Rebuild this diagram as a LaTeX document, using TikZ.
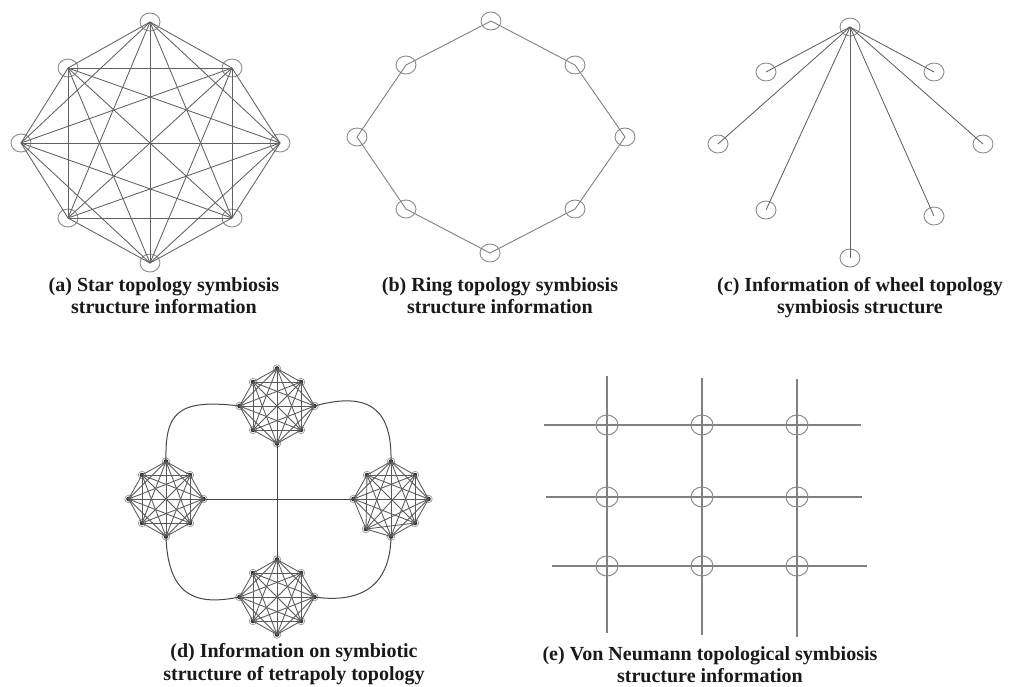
\documentclass[tikz,border=0pt]{standalone}
\usepackage{fontspec}
\setmainfont{Liberation Serif}
\usetikzlibrary{shapes.geometric}
\begin{document}
\begin{tikzpicture}[x=1pt,y=-1pt,
  ringnode/.style={draw=black!45, line width=0.9pt, ellipse, minimum width=20pt, minimum height=18pt, inner sep=0pt},
  gridnode/.style={draw=black!45, line width=1pt, ellipse, minimum width=22pt, minimum height=20pt, inner sep=0pt},
  edge/.style={draw=black!62, line width=0.85pt},
  ringedge/.style={draw=black!50, line width=0.9pt},
  gridline/.style={draw=black!50, line width=1.1pt},
  kedge/.style={draw=black!65, line width=0.85pt},
  dline/.style={draw=black!72, line width=1pt},
  knode/.style={circle, draw=black!40, minimum size=7.5pt, inner sep=0pt, line width=0.7pt,
    path picture={\fill[black!80] (path picture bounding box.center) circle (2.3pt);}},
  caption/.style={font=\bfseries\fontsize{20}{23}\selectfont, text=black!90, anchor=base, inner sep=0pt}
]
\useasboundingbox[fill=white] (0,0) rectangle (1026,686);

% ---------- (a) complete graph ----------
\foreach \n/\x/\y in {0/150/22, 1/232/68, 2/280/143, 3/232/218, 4/150/263, 5/68/218, 6/21/143, 7/68/68}
  \node[ringnode] (A\n) at (\x,\y) {};
\foreach \i in {0,...,6}{
  \pgfmathtruncatemacro\jstart{\i+1}
  \foreach \j in {\jstart,...,7}
    \draw[edge] (A\i.center) -- (A\j.center);
}
\node[caption] (capA1) at (164,291) {(a) Star topology symbiosis};
\node[caption] (capA2) at (164,313) {structure information};

% ---------- (b) ring ----------
\foreach \n/\x/\y in {0/491/21, 1/575/65, 2/625/137, 3/575/209, 4/490/253, 5/406/209, 6/357/137, 7/406/65}
  \node[ringnode] (B\n) at (\x,\y) {};
\draw[ringedge] (B0.center) -- (B1.center) -- (B2.center) -- (B3.center) -- (B4.center)
  -- (B5.center) -- (B6.center) -- (B7.center) -- cycle;
\node[caption] (capB1) at (500,291) {(b) Ring topology symbiosis};
\node[caption] (capB2) at (500,313) {structure information};

% ---------- (c) wheel ----------
\node[ringnode] (C0) at (850,27) {};
\foreach \n/\x/\y in {1/766/72, 2/934/72, 3/718/144, 4/983/144, 5/766/210, 6/934/216, 7/850/258}{
  \node[ringnode] (C\n) at (\x,\y) {};
  \draw[edge] (C0.center) -- (C\n.center);
}
\node[caption] (capC1) at (860,291) {(c) Information of wheel topology};
\node[caption] (capC2) at (860,313) {symbiosis structure};

% ---------- (d) tetrapoly ----------
\def\koffsets{0/0/-37.5, 1/24/-24, 2/37.5/0, 3/24/24, 4/0/37.5, 5/-24/24, 6/-37.5/0, 7/-24/-24}
\foreach \n/\dx/\dy in \koffsets {
  \node[knode] (T\n) at ([shift={(\dx,\dy)}]277,406) {};
  \node[knode] (L\n) at ([shift={(\dx,\dy)}]166,499) {};
  \node[knode] (Bt\n) at ([shift={(\dx,\dy)}]277,597) {};
}
\foreach \n/\dx/\dy in {0/0/-37.5, 1/24/-24, 2/37.5/0, 3/24/24, 4/0/37.5, 5/-25/30, 6/-37.5/0, 7/-24/-24}
  \node[knode] (R\n) at ([shift={(\dx,\dy)}]391,499) {};
\foreach \p in {T,L,R,Bt}{
  \foreach \i in {0,...,6}{
    \pgfmathtruncatemacro\jstart{\i+1}
    \foreach \j in {\jstart,...,7}
      \draw[kedge] (\p\i.center) -- (\p\j.center);
  }
}
\draw[dline] (T6.center) .. controls (175,398) and (165,415) .. (L0.center);
\draw[dline] (T2.center) .. controls (372,390) and (392,412) .. (R0.center);
\draw[dline] (L4.center) .. controls (168,600) and (200,605) .. (Bt6.center);
\draw[dline] (R4.center) .. controls (390,595) and (350,602) .. (Bt2.center);
\draw[dline] (L2.center) -- (R6.center);
\draw[dline] (T4.center) -- (Bt0.center);
\node[caption] (capD1) at (294,657) {(d) Information on symbiotic};
\node[caption] (capD2) at (294,680) {structure of tetrapoly topology};

% ---------- (e) von Neumann grid ----------
\foreach \c/\x/\t/\b in {1/607/376/633, 2/702/378/635, 3/797/379/637}{
  \coordinate (vt\c) at (\x,\t);
  \coordinate (vb\c) at (\x,\b);
  \draw[gridline] (vt\c) -- (vb\c);
}
\foreach \r/\y/\l/\rr in {1/425/544/861, 2/497/546/862, 3/566/552/867}{
  \coordinate (hl\r) at (\l,\y);
  \coordinate (hr\r) at (\rr,\y);
  \draw[gridline] (hl\r) -- (hr\r);
}
\foreach \r/\y in {1/425, 2/497, 3/566}
  \foreach \c/\x in {1/607, 2/702, 3/797}
    \node[gridnode] (E\r\c) at (\x,\y) {};
\node[caption] (capE1) at (710,660) {(e) Von Neumann topological symbiosis};
\node[caption] (capE2) at (710,682) {structure information};
\end{tikzpicture}
\end{document}
